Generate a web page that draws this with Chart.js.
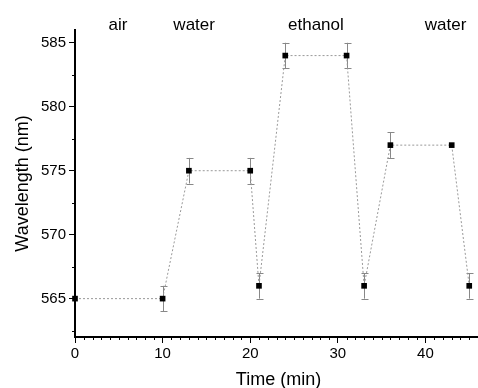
<!DOCTYPE html>
<html><head><meta charset="utf-8">
<script src="https://cdn.jsdelivr.net/npm/chart.js@4"></script>
<style>html,body{margin:0;padding:0;background:#fff}#wrap{width:478px;height:388px}</style>
</head><body><div id="wrap"><canvas id="c" width="478" height="388"></canvas></div>
<script>
const timeMin = [0, 10, 13, 20, 21, 24, 31, 33, 36, 43, 45];
const wavelength = [565, 565, 575, 575, 566, 584, 584, 566, 577, 577, 566];
const errorNm = [0, 1, 1, 1, 1, 1, 1, 1, 1, 0, 1];
const xTicks = [0, 10, 20, 30, 40];
const yTicks = [565, 570, 575, 580, 585];
const phaseLabels = ['air', 'water', 'ethanol', 'water'];
const phaseX = [4.9, 13.6, 27.5, 42.3];
const xTitle = 'Time (min)';
const yTitle = 'Wavelength (nm)';

const FONT = 'Liberation Sans, Arial, sans-serif';

const extras = {
  id: 'extras',
  beforeDatasetsDraw(chart) {
    const ctx = chart.ctx, xs = chart.scales.x, ys = chart.scales.y;
    ctx.save();
    ctx.strokeStyle = '#888';
    ctx.lineWidth = 1;
    timeMin.forEach((t, i) => {
      const e = errorNm[i];
      if (!e) return;
      const px = Math.round(xs.getPixelForValue(t)) + 0.5;
      const y1 = ys.getPixelForValue(wavelength[i] + e);
      const y2 = ys.getPixelForValue(wavelength[i] - e);
      ctx.beginPath();
      ctx.moveTo(px, y1); ctx.lineTo(px, y2);
      ctx.moveTo(px - 3, Math.round(y1) + 0.5); ctx.lineTo(px + 4, Math.round(y1) + 0.5);
      ctx.moveTo(px - 3, Math.round(y2) + 0.5); ctx.lineTo(px + 4, Math.round(y2) + 0.5);
      ctx.stroke();
    });
    ctx.restore();
  },
  afterDraw(chart) {
    const ctx = chart.ctx, xs = chart.scales.x, ys = chart.scales.y;
    const a = chart.chartArea;
    ctx.save();
    ctx.strokeStyle = '#000';
    ctx.lineWidth = 1;
    for (let v = 1; v <= 46; v++) {
      if (v % 10 === 0) continue;
      const px = Math.round(xs.getPixelForValue(v)) + 0.5;
      if (px > a.right + 1) break;
      ctx.beginPath(); ctx.moveTo(px, a.bottom); ctx.lineTo(px, a.bottom + 3); ctx.stroke();
    }
    for (let v = 562.5; v <= 586; v += 5) {
      const py = Math.round(ys.getPixelForValue(v)) + 0.5;
      ctx.beginPath(); ctx.moveTo(a.left, py); ctx.lineTo(a.left - 3, py); ctx.stroke();
    }
    ctx.fillStyle = '#000';
    ctx.font = '17px ' + FONT;
    ctx.textAlign = 'center';
    ctx.textBaseline = 'alphabetic';
    phaseLabels.forEach((s, i) => ctx.fillText(s, xs.getPixelForValue(phaseX[i]), 30));
    ctx.font = '18px ' + FONT;
    ctx.fillText(xTitle, (a.left + a.right) / 2 + 2, 385);
    ctx.save();
    ctx.translate(28, (a.top + a.bottom) / 2);
    ctx.rotate(-Math.PI / 2);
    ctx.fillText(yTitle, 0, 0);
    ctx.restore();
    ctx.restore();
  }
};

new Chart(document.getElementById('c'), {
  type: 'scatter',
  data: {
    datasets: [{
      data: timeMin.map((t, i) => ({x: t, y: wavelength[i]})),
      showLine: true,
      borderColor: '#999',
      borderWidth: 1,
      borderDash: [2, 2],
      pointStyle: 'rect',
      pointRadius: 4,
      pointBackgroundColor: '#000',
      pointBorderColor: '#000',
      pointBorderWidth: 0,
      clip: false
    }]
  },
  options: {
    responsive: false,
    animation: false,
    events: [],
    layout: {autoPadding: false, padding: {top: 30, right: 0, left: 0, bottom: 0}},
    plugins: {legend: {display: false}, tooltip: {enabled: false}},
    scales: {
      x: {
        type: 'linear', min: 0, max: 46,
        afterBuildTicks: s => { s.ticks = xTicks.map(v => ({value: v})); },
        afterFit: s => { s.height = 51; s.paddingLeft = 0; s.paddingRight = 0; },
        border: {display: true, color: '#000', width: 2},
        grid: {drawOnChartArea: false, drawTicks: true, tickLength: 6, color: '#000'},
        ticks: {color: '#000', font: {family: FONT, size: 15}, padding: 2, maxRotation: 0}
      },
      y: {
        type: 'linear', min: 562, max: 586,
        afterBuildTicks: s => { s.ticks = yTicks.map(v => ({value: v})); },
        afterFit: s => { s.width = 75; s.paddingTop = 0; s.paddingBottom = 0; },
        border: {display: true, color: '#000', width: 2},
        grid: {drawOnChartArea: false, drawTicks: true, tickLength: 6, color: '#000'},
        ticks: {color: '#000', font: {family: FONT, size: 15}, padding: 3}
      }
    }
  },
  plugins: [extras]
});
</script>
</body></html>
